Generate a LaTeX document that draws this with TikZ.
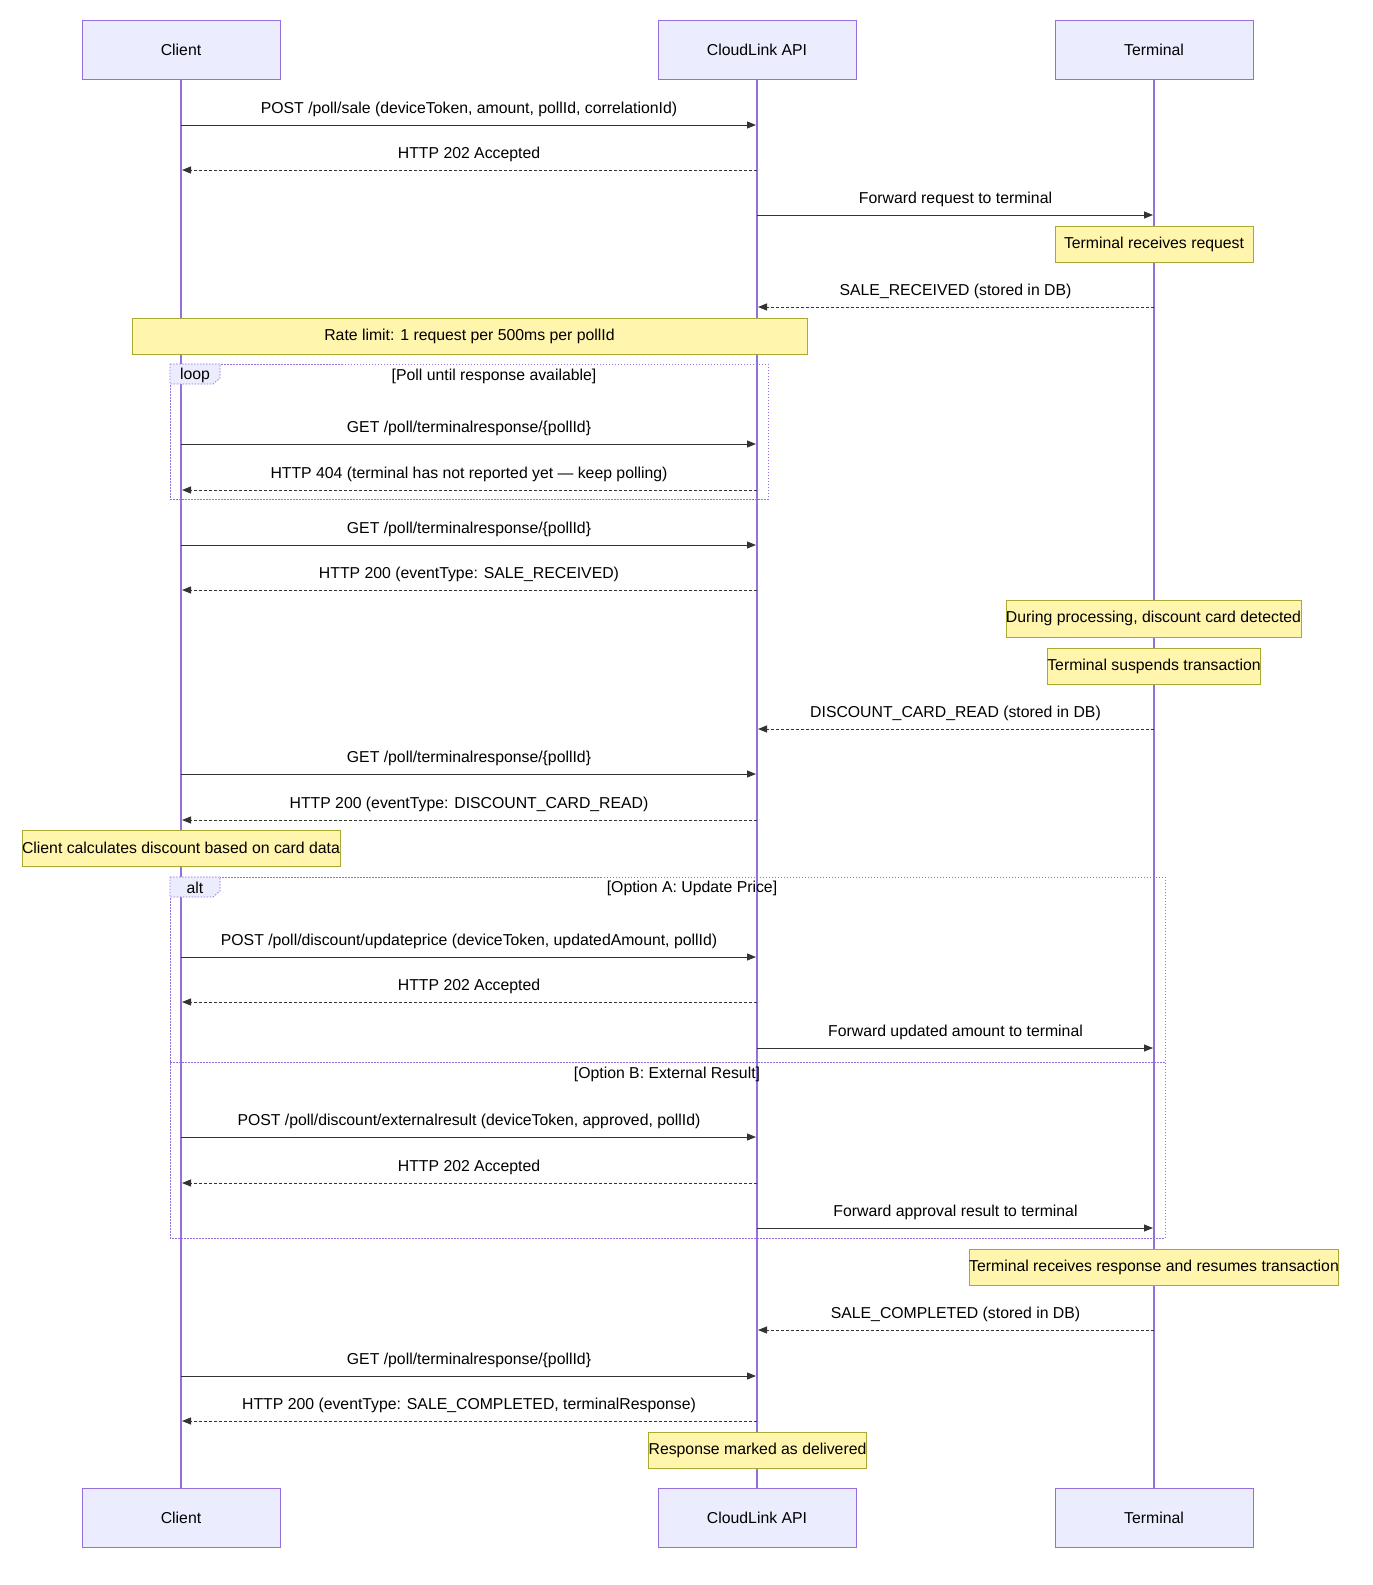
\documentclass[tikz,border=0pt]{standalone}
\usepackage{fontspec}
\setmainfont{Liberation Sans}
\usetikzlibrary{arrows.meta,calc}
\definecolor{actfill}{HTML}{ECECFF}
\definecolor{actline}{HTML}{9370DB}
\definecolor{notefill}{HTML}{FFF5AD}
\definecolor{noteline}{HTML}{AAAA33}
\definecolor{msg}{HTML}{333333}
\def\msgs{%
 125/c/a/sync/{POST /poll/sale (deviceToken, amount, pollId, correlationId)},%
 170/a/c/rep/{HTTP 202 Accepted},%
 215/a/t/sync/{Forward request to terminal},%
 307/t/a/rep/{SALE\_RECEIVED (stored in DB)},%
 444/c/a/sync/{GET /poll/terminalresponse/\{pollId\}},%
 490/a/c/rep/{HTTP 404 (terminal has not reported yet — keep polling)},%
 545/c/a/sync/{GET /poll/terminalresponse/\{pollId\}},%
 590/a/c/rep/{HTTP 200 (eventType: SALE\_RECEIVED)},%
 729/t/a/rep/{DISCOUNT\_CARD\_READ (stored in DB)},%
 774/c/a/sync/{GET /poll/terminalresponse/\{pollId\}},%
 820/a/c/rep/{HTTP 200 (eventType: DISCOUNT\_CARD\_READ)},%
 957/c/a/sync/{POST /poll/discount/updateprice (deviceToken, updatedAmount, pollId)},%
 1002/a/c/rep/{HTTP 202 Accepted},%
 1048/a/t/sync/{Forward updated amount to terminal},%
 1137/c/a/sync/{POST /poll/discount/externalresult (deviceToken, approved, pollId)},%
 1183/a/c/rep/{HTTP 202 Accepted},%
 1228/a/t/sync/{Forward approval result to terminal},%
 1330/t/a/rep/{SALE\_COMPLETED (stored in DB)},%
 1376/c/a/sync/{GET /poll/terminalresponse/\{pollId\}},%
 1421/a/c/rep/{HTTP 200 (eventType: SALE\_COMPLETED, terminalResponse)}}
\def\xc{181}\def\xa{757}\def\xt{1154}
\begin{document}%
\begin{tikzpicture}[x=1pt,y=-1pt,
  every node/.style={font=\fontsize{15.8}{18}\selectfont, text=black},
  actor/.style={draw=actline, fill=actfill, line width=0.8pt, minimum width=198pt, minimum height=59pt, inner sep=0pt},
  life/.style={draw=actline, line width=1.3pt},
  note/.style={draw=noteline, fill=notefill, line width=0.8pt, minimum height=36pt, inner sep=0pt},
  sync/.style={draw=msg, line width=1pt, -{Triangle[length=9pt,width=7pt]}},
  rep/.style={sync, dash pattern=on 3pt off 2pt},
  lbl/.style={inner sep=0pt, anchor=base},
  frame/.style={draw=actline, line width=0.8pt, dash pattern=on 1.5pt off 1.5pt},
]
\useasboundingbox (0,0) rectangle (1373,1585);
\coordinate (c0) at (181,79); \coordinate (c9) at (181,1488);
\coordinate (a0) at (757,79); \coordinate (a9) at (757,1488);
\coordinate (t0) at (1154,79); \coordinate (t9) at (1154,1488);
\draw[life] (c0) -- (c9); \draw[life] (a0) -- (a9); \draw[life] (t0) -- (t9);
\node[actor] (ct) at (181,49.5) {Client};
\node[actor] (at) at (757,49.5) {CloudLink API};
\node[actor] (tt) at (1154,49.5) {Terminal};
\node[actor] (cb) at (181,1517.5) {Client};
\node[actor] (ab) at (757,1517.5) {CloudLink API};
\node[actor] (tb) at (1154,1517.5) {Terminal};
\draw[frame] (170,364) rectangle (768,499);
\draw[frame, fill=actfill] (170,364) -- (220,364) -- (220,378) -- (213,384) -- (170,384) -- cycle;
\node (loopl) at (195,375) {loop};
\node (loopt) at (494,376) {[Poll until response available]};
\draw[frame] (170,877) rectangle (1165,1238);
\draw[frame] (170,1062) -- (1165,1062);
\draw[frame, fill=actfill] (170,877) -- (220,877) -- (220,891) -- (213,897) -- (170,897) -- cycle;
\node (altl) at (195,888) {alt};
\node (altt) at (692,888) {[Option A: Update Price]};
\node (altb) at (667,1074) {[Option B: External Result]};
\node[note, minimum width=198pt] (n1) at (1154,244) {Terminal receives request};
\node[note, minimum width=675pt] (n2) at (469.5,336) {Rate limit: 1 request per 500ms per pollId};
\node[note, minimum width=287pt, minimum height=37pt] (n3) at (1153.5,618.5) {During processing, discount card detected};
\node[note, minimum width=212pt] (n4) at (1154,666) {Terminal suspends transaction};
\node[note, minimum width=304pt] (n5) at (181,848) {Client calculates discount based on card data};
\node[note, minimum width=348pt] (n6) at (1154,1267) {Terminal receives response and resumes transaction};
\node[note, minimum width=213pt] (n7) at (757.5,1450) {Response marked as delivered};
\foreach \yy/\f/\t/\st/\txt [count=\i] in \msgs {%
  \pgfmathsetmacro{\xf}{\csname x\f\endcsname}%
  \pgfmathsetmacro{\xto}{\csname x\t\endcsname}%
  \pgfmathsetmacro{\xe}{\xto>\xf ? \xto-1 : \xto+1}%
  \coordinate (m\i s) at (\xf,\yy);%
  \coordinate (m\i e) at (\xe,\yy);%
  \draw[\st] (m\i s) -- (m\i e);%
  \node[lbl] (m\i l) at ($(\xf,\yy)!0.5!(\xto,\yy)+(0,-12)$) {\txt};%
}%
\end{tikzpicture}%
\end{document}
